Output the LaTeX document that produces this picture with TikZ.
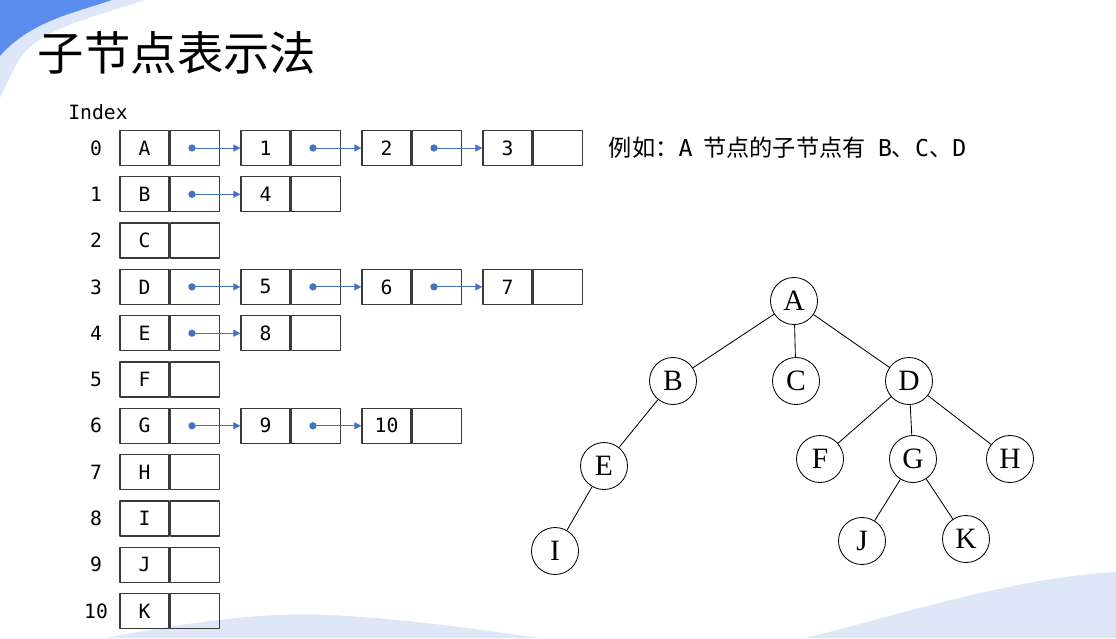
\documentclass[tikz,border=0pt]{standalone}
\usepackage{fontspec}
\setmainfont{Liberation Serif}
\setmonofont{DejaVu Sans Mono}
\newfontfamily\cjkfont{Noto Sans CJK SC}
\usetikzlibrary{arrows.meta,positioning}
\definecolor{ptrblue}{HTML}{4472C4}
\definecolor{bgblue}{HTML}{5B8DEF}
\definecolor{bglight}{HTML}{DDE7F8}
\definecolor{cellgray}{HTML}{3A3A3A}
\begin{document}
\begin{tikzpicture}[
  x=0.025cm, y=-0.025cm,
  line join=round,
  cell/.style={draw=cellgray, line width=0.9pt, minimum width=1.225cm,
    minimum height=0.875cm, inner sep=0pt,
    font=\ttfamily\fontsize{14}{14}\selectfont},
  idx/.style={font=\ttfamily\fontsize{14}{14}\selectfont},
  ptr/.style={ptrblue, line width=0.7pt, -{Triangle[length=5pt,width=5pt]}},
  tnode/.style={circle, draw, line width=0.6pt, minimum size=1.175cm,
    inner sep=0pt, font=\fontsize{21}{21}\selectfont},
  treeline/.style={line width=0.6pt}
]
  \useasboundingbox (0,0) rectangle (1116,638);

  % Фон
  \fill[bglight] (0,0) -- (145,0) .. controls (85,20) and (35,30) .. (18,62)
    .. controls (10,75) and (5,88) .. (0,98) -- cycle;
  \fill[bgblue] (0,0) -- (112,0) .. controls (70,14) and (30,22) .. (0,56) -- cycle;
  \fill[bglight] (105,638) .. controls (200,620) and (270,612) .. (330,615)
    .. controls (420,620) and (480,630) .. (540,638) -- cycle;
  \fill[bglight] (805,638) .. controls (900,615) and (1010,578) .. (1116,572)
    -- (1116,638) -- cycle;

  % Заголовок
  \node[anchor=west, font=\cjkfont\fontsize{33}{33}\selectfont] (title)
    at (33,53) {子节点表示法};
  \node[idx] (idxhead) at (98,112) {Index};

  % Массив заголовков
  \foreach \i/\lab in {0/A,1/B,2/C,3/D,4/E,5/F,6/G,7/H,8/I,9/J,10/K} {
    \node[idx] (n\i) at (96,{148+46.3*\i}) {\i};
    \node[cell] (cd\i-0) at (144.5,{148+46.3*\i}) {\lab};
    \node[cell, right=0pt of cd\i-0] (cp\i-0) {};
  }

  % Списки детей
  \foreach \r/\kids in {0/{1,2,3},1/{4},3/{5,6,7},4/{8},6/{9,10}} {
    \foreach \v [count=\k, remember=\k as \j (initially 0)] in \kids {
      \node[cell] (cd\r-\k) at ({144.5+121*\k},{148+46.3*\r}) {\v};
      \node[cell, right=0pt of cd\r-\k] (cp\r-\k) {};
      \fill[ptrblue] ([xshift=-2pt]cp\r-\j.center) circle (2.6pt);
      \draw[ptr] ([xshift=-2pt]cp\r-\j.center) -- (cd\r-\k.west);
    }
  }

  % Пояснение
  \node[anchor=west, font=\cjkfont\fontsize{16.5}{16.5}\selectfont] (note)
    at (604,148) {例如：{\ttfamily A}\hspace{4pt} 节点的子节点有\hspace{5pt} {\ttfamily B}、{\ttfamily C}、{\ttfamily D}};

  % Дерево
  \node[tnode] (tA) at (794,301) {A};
  \node[tnode] (tB) at (673,381) {B};
  \node[tnode] (tC) at (796,381) {C};
  \node[tnode] (tD) at (909,381) {D};
  \node[tnode] (tE) at (604,466) {E};
  \node[tnode] (tF) at (820,459) {F};
  \node[tnode] (tG) at (913,459) {G};
  \node[tnode] (tH) at (1010,459) {H};
  \node[tnode] (tI) at (555,551) {I};
  \node[tnode] (tJ) at (862,541) {J};
  \node[tnode] (tK) at (966,539) {K};

  \foreach \a/\b in {A/B,A/C,A/D,B/E,E/I,D/F,D/G,D/H,G/J,G/K}
    \draw[treeline] (t\a) -- (t\b);
\end{tikzpicture}
\end{document}
